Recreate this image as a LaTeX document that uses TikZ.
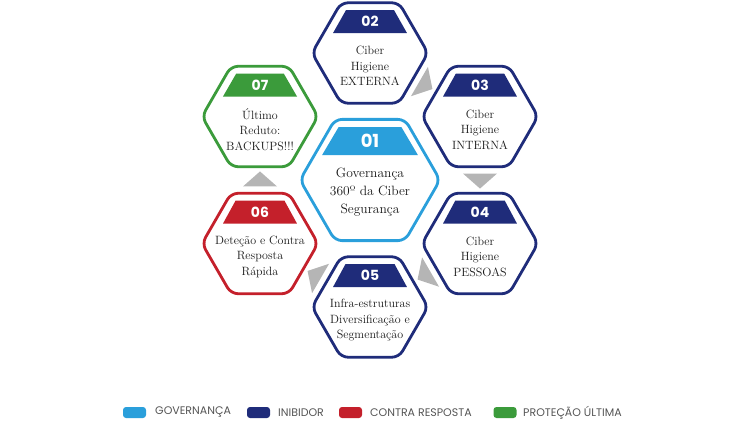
\documentclass[tikz,border=0pt]{standalone}
\usepackage{fontspec}
\usetikzlibrary{arrows.meta, positioning, shapes.geometric, calc}
\newfontfamily\numfont{Poppins}
\newfontfamily\legfont{Poppins}
\definecolor{govblue}{HTML}{2A9FDB}
\definecolor{inbnavy}{HTML}{1F2C7A}
\definecolor{resred}{HTML}{C4202B}
\definecolor{protgreen}{HTML}{3B9B3B}
\definecolor{flowgray}{HTML}{B5B5B5}
\definecolor{leggray}{HTML}{555555}

\begin{document}
\begin{tikzpicture}[x=1pt, y=-1pt,
    hexa/.style={regular polygon, regular polygon sides=6, minimum size=116pt,
                 inner sep=0pt, line width=2.8pt, rounded corners=7pt, fill=white},
    hexbig/.style={hexa, minimum size=140pt},
    band/.style={trapezium, trapezium angle=66, trapezium stretches=true,
                 minimum width=74pt, minimum height=23pt, inner sep=0pt,
                 text=white, font=\numfont\bfseries\fontsize{14}{14}\selectfont},
    bandbig/.style={band, trapezium angle=70, minimum width=96pt, minimum height=28pt,
                 font=\numfont\bfseries\fontsize{18}{18}\selectfont},
    txt/.style={align=center, inner sep=0pt, text=black!90,
                font=\fontsize{12}{15.5}\selectfont},
    flow/.style={isosceles triangle, isosceles triangle stretches=true,
                 minimum width=34pt, minimum height=15pt, inner sep=0pt,
                 fill=flowgray},
    key/.style={rectangle, rounded corners=3pt, minimum width=23pt,
                minimum height=11pt, inner sep=0pt},
    keytxt/.style={anchor=west, inner sep=0pt, text=leggray,
                   font=\legfont\fontsize{11}{11}\selectfont}
  ]
    \useasboundingbox (0,0) rectangle (750,421);

    % hexagons
    \node[hexbig, draw=govblue] (h1) at (370,180) {};
    \node[hexa, draw=inbnavy] (h2) at (370,53) {};
    \node[hexa, draw=inbnavy] (h3) at (480,116.5) {};
    \node[hexa, draw=inbnavy] (h4) at (480,243.5) {};
    \node[hexa, draw=inbnavy] (h5) at (370,307) {};
    \node[hexa, draw=resred] (h6) at (260,243.5) {};
    \node[hexa, draw=protgreen] (h7) at (260,116.5) {};

    % number bands
    \node[bandbig, fill=govblue] (n1) at ($(h1)+(0,-39)$) {01};
    \node[band, fill=inbnavy] (n2) at ($(h2)+(0,-31.5)$) {02};
    \node[band, fill=inbnavy] (n3) at ($(h3)+(0,-31.5)$) {03};
    \node[band, fill=inbnavy] (n4) at ($(h4)+(0,-31.5)$) {04};
    \node[band, fill=inbnavy] (n5) at ($(h5)+(0,-31.5)$) {05};
    \node[band, fill=resred] (n6) at ($(h6)+(0,-31.5)$) {06};
    \node[band, fill=protgreen] (n7) at ($(h7)+(0,-31.5)$) {07};

    % texts
    \node[txt, font=\fontsize{13.5}{18}\selectfont] (t1) at ($(h1)+(0,12)$) {Governança\\360º da Ciber\\Segurança};
    \node[txt] (t2) at ($(h2)+(0,13)$) {Ciber\\Higiene\\EXTERNA};
    \node[txt] (t3) at ($(h3)+(0,13)$) {Ciber\\Higiene\\INTERNA};
    \node[txt] (t4) at ($(h4)+(0,13)$) {Ciber\\Higiene\\PESSOAS};
    \node[txt] (t5) at ($(h5)+(0,13)$) {Infra-estruturas\\Diversificação e\\Segmentação};
    \node[txt] (t6) at ($(h6)+(0,13)$) {Deteção e Contra\\Resposta\\Rápida};
    \node[txt] (t7) at ($(h7)+(0,13)$) {Último\\Reduto:\\BACKUPS!!!};

    % flow triangles
    \node[flow, rotate=-30] (f23) at ($(h2)!.5!(h3)$) {};
    \node[flow, rotate=-90] (f34) at ($(h3)!.5!(h4)$) {};
    \node[flow, rotate=-150] (f45) at ($(h4)!.5!(h5)$) {};
    \node[flow, rotate=150] (f56) at ($(h5)!.5!(h6)$) {};
    \node[flow, rotate=90] (f67) at ($(h6)!.5!(h7)$) {};

    % legend
    \node[key, fill=govblue] (k1) at (134.5,412.5) {};
    \node[keytxt] (l1) at (155,412.5) {GOVERNANÇA};
    \node[key, fill=inbnavy] (k2) at (258.5,412.5) {};
    \node[keytxt] (l2) at (278,412.5) {INIBIDOR};
    \node[key, fill=resred] (k3) at (350.5,412.5) {};
    \node[keytxt] (l3) at (370,412.5) {CONTRA RESPOSTA};
    \node[key, fill=protgreen] (k4) at (505,412.5) {};
    \node[keytxt] (l4) at (523,412.5) {PROTEÇÃO ÚLTIMA};
\end{tikzpicture}
\end{document}
